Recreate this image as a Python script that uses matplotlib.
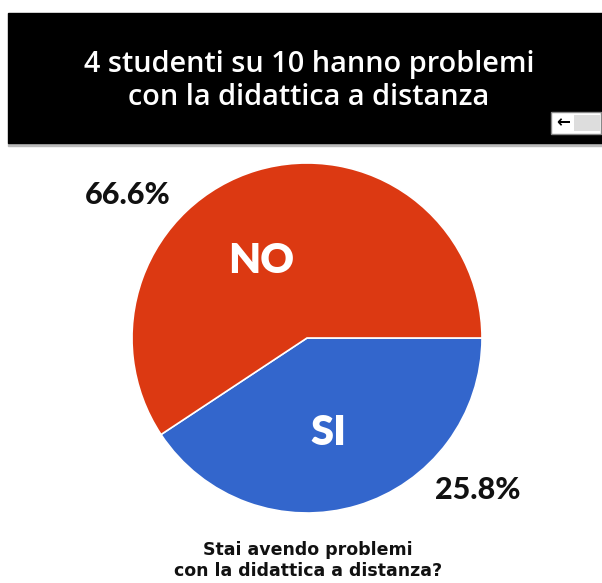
import matplotlib.pyplot as plt
from matplotlib.patches import Rectangle

# slice shares as drawn in the picture, and the printed labels
categories = ['SI', 'NO']
shares = [40.7, 59.3]
pct_labels = ['25.8%', '66.6%']
colors = ['#3366CC', '#DC3912']

title_lines = ['4 studenti su 10 hanno problemi', 'con la didattica a distanza']
question_lines = ['Stai avendo problemi', 'con la didattica a distanza?']

W, H = 602, 583
fig = plt.figure(figsize=(W / 100, H / 100), dpi=100)
ax = fig.add_axes([0, 0, 1, 1])

def py(y):
    # pixel row (top-down) -> data y
    return H - y

# pie
ax.pie(shares, colors=colors, startangle=0, counterclock=False,
       center=(307, py(338)), radius=175, frame=True,
       wedgeprops=dict(edgecolor='white', linewidth=1.2))
ax.set_xlim(0, W)
ax.set_ylim(0, H)
ax.set_aspect('equal')
ax.axis('off')

# black title banner
ax.add_patch(Rectangle((8, py(143)), W - 8, 130, color='black', zorder=1))
ax.add_patch(Rectangle((8, py(146)), W - 8, 3, color='#bbbbbb', zorder=0))
for line, base in zip(title_lines, [72, 105]):
    ax.text(309, py(base), line, ha='center', va='baseline', color='white',
            fontsize=20.8, family='Open Sans', fontweight='semibold', zorder=2)

# small logo box
ax.add_patch(Rectangle((551, py(134)), 50, 22, facecolor='white',
                       edgecolor='#888888', lw=1, zorder=2))
ax.text(563, py(122), '\u2190', ha='center', va='center', fontsize=12,
        color='black', fontweight='bold', zorder=3)
ax.add_patch(Rectangle((574, py(131)), 26, 16, facecolor='#dddddd', lw=0, zorder=2))

# category names inside slices
ax.text(261, py(261), categories[1], ha='center', va='center', color='white',
        fontsize=30, family='Lato', fontweight='heavy')
ax.text(328, py(433), categories[0], ha='center', va='center', color='white',
        fontsize=30, family='Lato', fontweight='heavy')

# percentages outside
ax.text(128, py(195), pct_labels[1], ha='center', va='center', color='#111111',
        fontsize=22, family='Lato', fontweight='black')
ax.text(478, py(490), pct_labels[0], ha='center', va='center', color='#111111',
        fontsize=22, family='Lato', fontweight='black')

# question under the chart
for line, base in zip(question_lines, [555, 576]):
    ax.text(308, py(base), line, ha='center', va='baseline', color='#111111',
            fontsize=12.5, family='DejaVu Sans', fontweight='bold')

fig.savefig('out.png', dpi=100, facecolor='white')
